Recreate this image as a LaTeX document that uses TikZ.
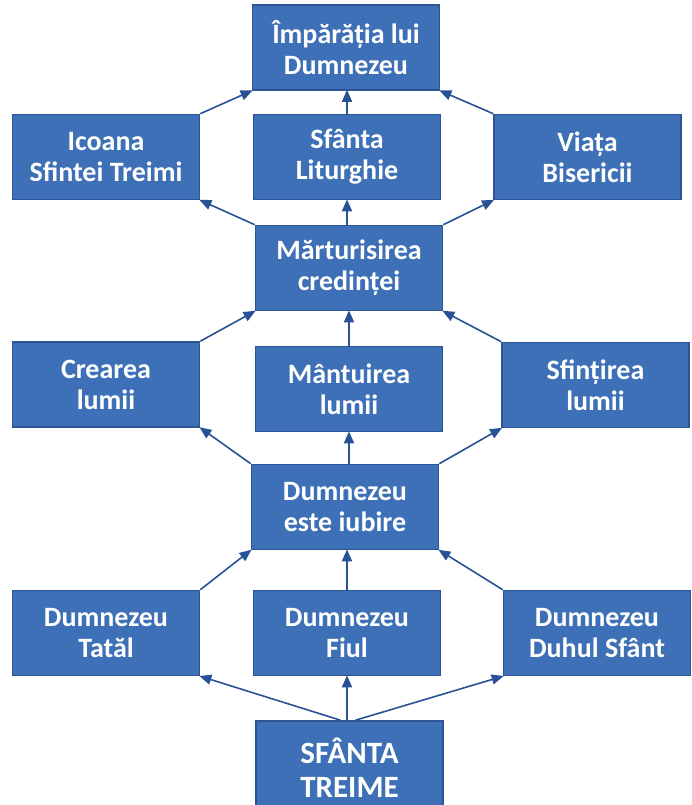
\documentclass[tikz,border=0pt]{standalone}
\usepackage{fontspec}
\setmainfont{Carlito}
\usetikzlibrary{arrows.meta}
\definecolor{boxfill}{RGB}{61,112,182}
\definecolor{boxline}{RGB}{47,84,150}
\definecolor{arrcol}{RGB}{40,82,150}
\tikzset{
  box/.style={draw=boxline, fill=boxfill, line width=1.6pt, minimum width=187pt, minimum height=85pt,
    inner sep=0pt, align=center, text=white, font=\bfseries\fontsize{28}{31}\selectfont},
  bigbox/.style={box, font=\bfseries\fontsize{31}{34}\selectfont},
  arr/.style={draw=arrcol, line width=1.6pt, -{Triangle[length=12pt,width=10pt]}, shorten >=-1pt}
}
\begin{document}
\begin{tikzpicture}[x=1pt,y=-1pt]
\useasboundingbox (0,0) rectangle (691,805);
\node[box] (imp) at (346,47.5) {Împărăția lui\\Dumnezeu};
\node[box] (ico) at (106,157) {Icoana\\Sfintei Treimi};
\node[box] (lit) at (347,157) {Sfânta\\Liturghie};
\node[box] (via) at (587.5,157) {Viața\\Bisericii};
\node[box] (mar) at (349,268) {Mărturisirea\\credinței};
\node[box] (cre) at (106,384.5) {Crearea\\lumii};
\node[box] (man) at (349,389) {Mântuirea\\lumii};
\node[box] (sfi) at (595.5,385) {Sfințirea\\lumii};
\node[box] (iub) at (345,507) {Dumnezeu\\este iubire};
\node[box] (tat) at (106,633) {Dumnezeu\\Tatăl};
\node[box] (fiu) at (347,633) {Dumnezeu\\Fiul};
\node[box] (duh) at (597,633) {Dumnezeu\\Duhul Sfânt};
\node[bigbox, minimum height=94pt] (tre) at (349.5,768) {SFÂNTA\\TREIME};
% top level
\draw[arr] (ico.north east) -- (imp.south west);
\draw[arr] (lit.north) -- (lit.north |- imp.south);
\draw[arr] (via.north west) -- (imp.south east);
% from Marturisirea
\draw[arr] (mar.north west) -- (ico.south east);
\draw[arr] (mar.north -| lit.south) -- (lit.south);
\draw[arr] (mar.north east) -- (via.south west);
% to Marturisirea
\draw[arr] (cre.north east) -- (mar.south west);
\draw[arr] (man.north) -- (mar.south);
\draw[arr] (sfi.north west) -- (mar.south east);
% from iubire
\draw[arr] (iub.north west) -- (cre.south east);
\draw[arr] (iub.north -| man.south) -- (man.south);
\draw[arr] (iub.north east) -- (sfi.south west);
% to iubire
\draw[arr] (tat.north east) -- (iub.south west);
\draw[arr] (fiu.north) -- (fiu.north |- iub.south);
\draw[arr] (duh.north west) -- (iub.south east);
% from Treime
\draw[arr] ([xshift=-9pt]tre.north) -- (tat.south east);
\draw[arr] (tre.north -| fiu.south) -- (fiu.south);
\draw[arr] ([xshift=6pt]tre.north) -- (duh.south west);
\end{tikzpicture}
\end{document}
